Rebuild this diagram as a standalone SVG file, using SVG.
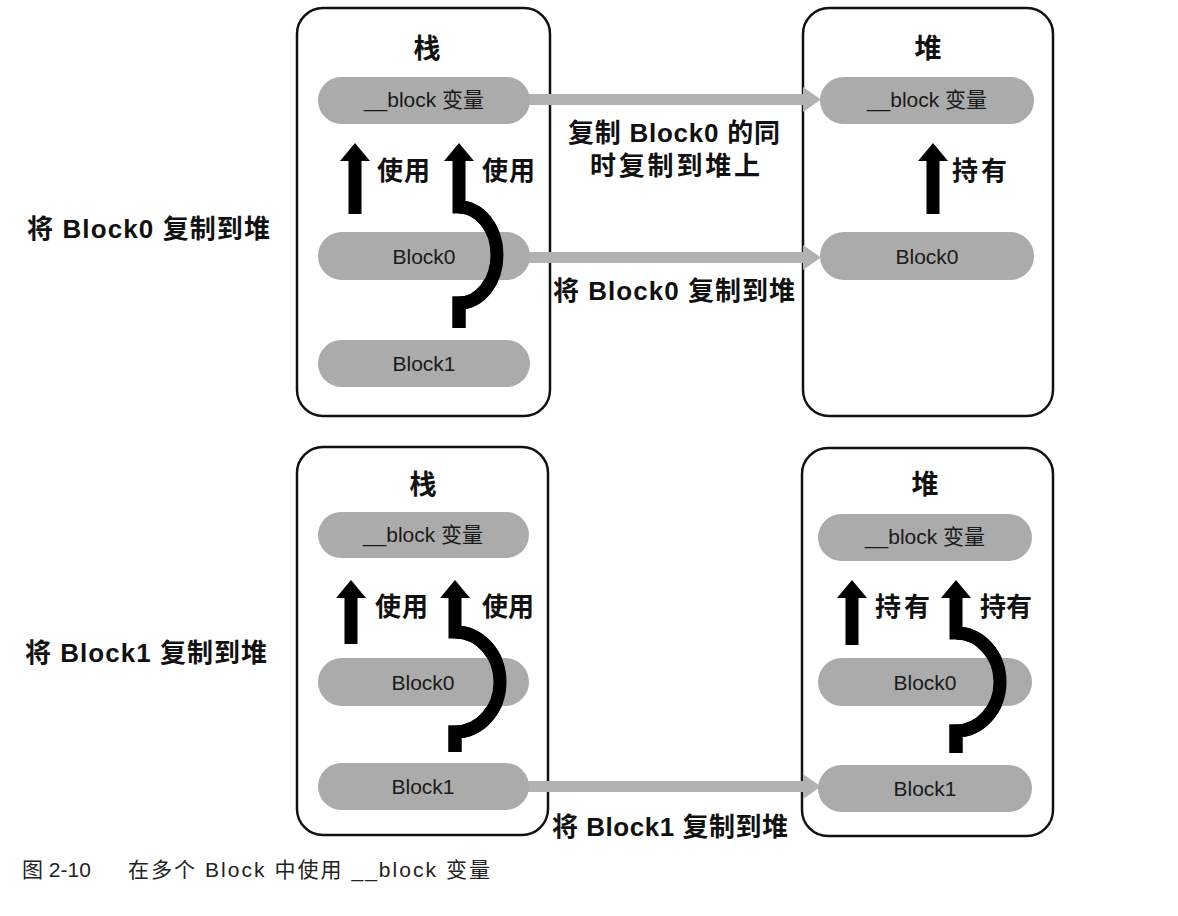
<svg xmlns="http://www.w3.org/2000/svg" width="1178" height="916" viewBox="0 0 1178 916">
<defs>
<style>
.box{fill:#fff;stroke:#111;stroke-width:2.5}
.pill{fill:#ababab}
.pt{font-family:"Liberation Sans","Noto Sans CJK SC",sans-serif;font-size:21px;fill:#1a1a1a;text-anchor:middle}
.title{font-family:"Noto Sans CJK SC",sans-serif;font-size:27px;font-weight:bold;fill:#111;text-anchor:middle}
.lbl{font-family:"Liberation Sans","Noto Sans CJK SC",sans-serif;font-size:26px;font-weight:bold;fill:#111}
.cap{font-family:"Liberation Sans","Noto Sans CJK SC",sans-serif;font-size:21px;fill:#222}
.garrow{fill:#b2b2b2}
.bshaft{fill:#000}
.bcurve{fill:none;stroke:#000;stroke-width:13;stroke-linejoin:miter}
</style>
</defs>
<rect width="1178" height="916" fill="#fff"/>

<!-- containers -->
<g id="stack-top"><rect class="box" x="297" y="8" width="253" height="408" rx="26"/><text class="title" x="427" y="58">栈</text></g>
<g id="heap-top"><rect class="box" x="803" y="8" width="250" height="408" rx="26"/><text class="title" x="928" y="58">堆</text></g>
<g id="stack-bottom"><rect class="box" x="297" y="447" width="251" height="388" rx="26"/><text class="title" x="423" y="494">栈</text></g>
<g id="heap-bottom"><rect class="box" x="802" y="448" width="251" height="388" rx="26"/><text class="title" x="925" y="494">堆</text></g>

<!-- connectors -->
<g id="connectors">
  <rect class="garrow" x="526" y="94" width="279" height="11"/>
  <polygon class="garrow" points="803,87 821,99.5 803,112"/>
  <rect class="garrow" x="526" y="252" width="279" height="11"/>
  <polygon class="garrow" points="803,245 821,257.5 803,270"/>
  <rect class="garrow" x="526" y="781" width="279" height="11"/>
  <polygon class="garrow" points="803,774 821,786.5 803,799"/>

  <rect class="bshaft" x="348.5" y="159" width="13" height="55"/>
  <polygon class="bshaft" points="340,161 355,143 370,161"/>
  <path class="bcurve" d="M459,159 V207 A38,48 0 0 1 459,303 V328"/>
  <polygon class="bshaft" points="444,161 459,143 474,161"/>

  <rect class="bshaft" x="926.5" y="159" width="13" height="55"/>
  <polygon class="bshaft" points="918,161 933,143 948,161"/>

  <rect class="bshaft" x="344.5" y="596" width="13" height="48"/>
  <polygon class="bshaft" points="336,598 351,580 366,598"/>
  <path class="bcurve" d="M455,596 V632 A45,50 0 0 1 455,732 V752"/>
  <polygon class="bshaft" points="440,598 455,580 470,598"/>

  <rect class="bshaft" x="845.5" y="596" width="13" height="49"/>
  <polygon class="bshaft" points="837,598 852,580 867,598"/>
  <path class="bcurve" d="M956,596 V633 A44,49 0 0 1 956,731 V753"/>
  <polygon class="bshaft" points="941,598 956,580 971,598"/>
</g>

<!-- top stack -->
<g id="s1-var"><rect class="pill" x="318" y="77" width="212" height="47" rx="23.5"/><text class="pt" x="424" y="107">__block 变量</text></g>
<g id="s1-block0"><rect class="pill" x="318" y="232" width="212" height="48" rx="24"/><text class="pt" x="424" y="264">Block0</text></g>
<g id="s1-block1"><rect class="pill" x="318" y="340" width="212" height="47" rx="23.5"/><text class="pt" x="424" y="371">Block1</text></g>
<g id="s1-curve-over"><path class="bcurve" d="M459,207 A38,48 0 0 1 459,303 V328"/></g>

<!-- top heap -->
<g id="h1-var"><rect class="pill" x="820" y="77" width="214" height="47" rx="23.5"/><text class="pt" x="927" y="107">__block 变量</text></g>
<g id="h1-block0"><rect class="pill" x="820" y="232" width="214" height="48" rx="24"/><text class="pt" x="927" y="264">Block0</text></g>

<!-- bottom stack -->
<g id="s2-var"><rect class="pill" x="318" y="512" width="211" height="46" rx="23"/><text class="pt" x="423" y="542">__block 变量</text></g>
<g id="s2-block0"><rect class="pill" x="318" y="658" width="211" height="48" rx="24"/><text class="pt" x="423" y="690">Block0</text></g>
<g id="s2-block1"><rect class="pill" x="318" y="763" width="211" height="47" rx="23.5"/><text class="pt" x="423" y="794">Block1</text></g>
<g id="s2-curve-over"><path class="bcurve" d="M455,632 A45,50 0 0 1 455,732 V752"/></g>

<!-- bottom heap -->
<g id="h2-var"><rect class="pill" x="818" y="514" width="214" height="47" rx="23.5"/><text class="pt" x="925" y="544">__block 变量</text></g>
<g id="h2-block0"><rect class="pill" x="818" y="658" width="214" height="48" rx="24"/><text class="pt" x="925" y="690">Block0</text></g>
<g id="h2-block1"><rect class="pill" x="818" y="765" width="214" height="47" rx="23.5"/><text class="pt" x="925" y="796">Block1</text></g>
<g id="h2-curve-over"><path class="bcurve" d="M956,633 A44,49 0 0 1 956,731 V753"/></g>

<!-- labels -->
<g id="labels">
  <text class="lbl" x="377" y="180" textLength="53" lengthAdjust="spacing">使用</text>
  <text class="lbl" x="482" y="180" textLength="53" lengthAdjust="spacing">使用</text>
  <text class="lbl" x="952" y="180" textLength="55" lengthAdjust="spacing">持有</text>
  <text class="lbl" x="375" y="616" textLength="53" lengthAdjust="spacing">使用</text>
  <text class="lbl" x="482" y="616" textLength="52" lengthAdjust="spacing">使用</text>
  <text class="lbl" x="875" y="616" textLength="55" lengthAdjust="spacing">持有</text>
  <text class="lbl" x="980" y="616" textLength="52" lengthAdjust="spacing">持有</text>
  <text class="lbl" x="568" y="142" textLength="212" lengthAdjust="spacing">复制 Block0 的同</text>
  <text class="lbl" x="590" y="175" textLength="170" lengthAdjust="spacing">时复制到堆上</text>
  <text class="lbl" x="553" y="300" textLength="242" lengthAdjust="spacing">将 Block0 复制到堆</text>
  <text class="lbl" x="552" y="836" textLength="236" lengthAdjust="spacing">将 Block1 复制到堆</text>
  <text class="lbl" x="27" y="238" textLength="243" lengthAdjust="spacing">将 Block0 复制到堆</text>
  <text class="lbl" x="25" y="662" textLength="242" lengthAdjust="spacing">将 Block1 复制到堆</text>
</g>

<g id="caption">
  <text class="cap" x="22" y="877">图 2-10</text>
  <text class="cap" x="128" y="877" textLength="362" lengthAdjust="spacing">在多个 Block 中使用 __block 变量</text>
</g>
</svg>
